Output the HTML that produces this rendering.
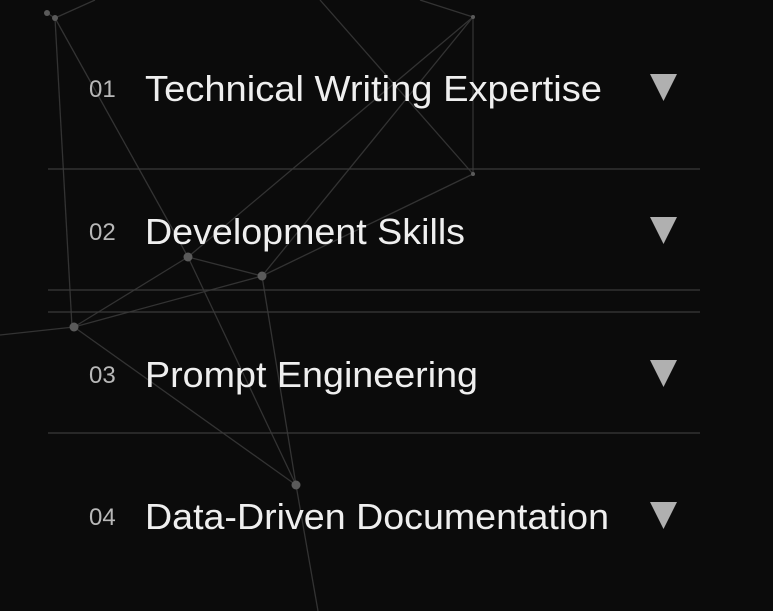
<!DOCTYPE html>
<html><head><meta charset="utf-8"><style>
html,body{margin:0;padding:0;background:#0b0b0b;width:773px;height:611px;overflow:hidden}
svg{display:block}
.num{font-family:"Liberation Sans",sans-serif;font-size:24px;fill:#b8b8b8}
.ttl{font-family:"Liberation Sans",sans-serif;font-size:36px;fill:#efefef}
</style></head><body>
<svg width="773" height="611" viewBox="0 0 773 611">
<rect width="773" height="611" fill="#0b0b0b"/>
<g stroke="#333" stroke-width="1.3" fill="none">
<line x1="55" y1="18" x2="188" y2="257"/>
<line x1="55" y1="18" x2="72" y2="327"/>
<line x1="47" y1="13" x2="55" y2="18"/>
<line x1="55" y1="18" x2="95" y2="0"/>
<line x1="473" y1="17" x2="473" y2="174"/>
<line x1="473" y1="17" x2="262" y2="276"/>
<line x1="320" y1="0" x2="473" y2="174"/>
<line x1="473" y1="174" x2="262" y2="276"/>
<line x1="420" y1="0" x2="473" y2="17"/>
<line x1="188" y1="257" x2="262" y2="276"/>
<line x1="188" y1="257" x2="74" y2="327"/>
<line x1="74" y1="327" x2="262" y2="276"/>
<line x1="74" y1="327" x2="296" y2="485"/>
<line x1="188" y1="257" x2="296" y2="485"/>
<line x1="262" y1="276" x2="296" y2="485"/>
<line x1="296" y1="485" x2="318" y2="611"/>
<line x1="0" y1="335" x2="74" y2="327"/>
<line x1="188" y1="257" x2="473" y2="17"/>
</g>
<g fill="#5a5a5a">
<circle cx="47" cy="13" r="3"/><circle cx="55" cy="18" r="3"/>
<circle cx="473" cy="17" r="2"/><circle cx="473" cy="174" r="2"/>
<circle cx="188" cy="257" r="4.5"/><circle cx="262" cy="276" r="4.5"/>
<circle cx="74" cy="327" r="4.5"/><circle cx="296" cy="485" r="4.5"/>
</g>
<g stroke="#3a3a3a" stroke-width="1.2">
<line x1="48" y1="169" x2="700" y2="169"/>
<line x1="48" y1="290" x2="700" y2="290"/>
<line x1="48" y1="312" x2="700" y2="312"/>
<line x1="48" y1="433" x2="700" y2="433"/>
</g>
<g>
<text class="num" x="89" y="97">01</text>
<text class="ttl" x="145" y="101" textLength="457" lengthAdjust="spacingAndGlyphs">Technical Writing Expertise</text>
<polygon points="650,74 677,74 663.5,101" fill="#b0b0b0"/>
</g>
<g>
<text class="num" x="89" y="240">02</text>
<text class="ttl" x="145" y="244" textLength="320" lengthAdjust="spacingAndGlyphs">Development Skills</text>
<polygon points="650,217 677,217 663.5,244" fill="#b0b0b0"/>
</g>
<g>
<text class="num" x="89" y="383">03</text>
<text class="ttl" x="145" y="387" textLength="333" lengthAdjust="spacingAndGlyphs">Prompt Engineering</text>
<polygon points="650,360 677,360 663.5,387" fill="#b0b0b0"/>
</g>
<g>
<text class="num" x="89" y="525">04</text>
<text class="ttl" x="145" y="529" textLength="464" lengthAdjust="spacingAndGlyphs">Data-Driven Documentation</text>
<polygon points="650,502 677,502 663.5,529" fill="#b0b0b0"/>
</g>
</svg>
</body></html>
